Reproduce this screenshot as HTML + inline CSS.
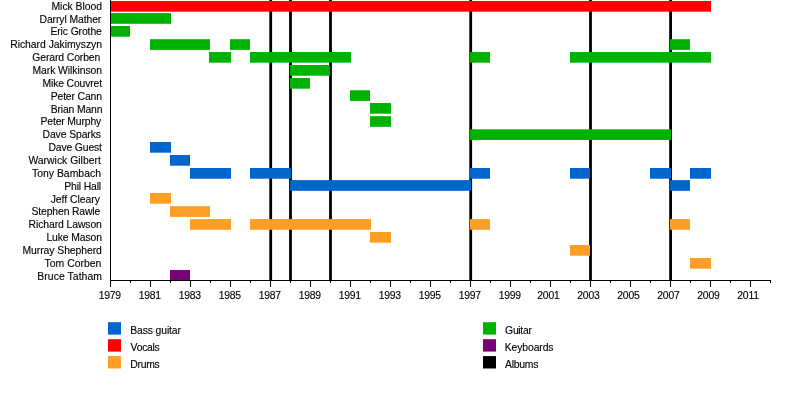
<!DOCTYPE html>
<html lang="en"><head><meta charset="utf-8"><title>Timeline</title>
<style>html,body{margin:0;padding:0;background:#fff}svg{display:block}text{font-family:"Liberation Sans",Arial,sans-serif;font-size:10.4px;fill:#000;stroke:#000;stroke-width:0.12}</style></head><body>
<svg width="800" height="400" viewBox="0 0 800 400">
<rect width="800" height="400" fill="#fff"/>
<rect x="269.3" y="0" width="2.8" height="280" fill="#000"/>
<rect x="289.1" y="0" width="2.8" height="280" fill="#000"/>
<rect x="329.1" y="0" width="2.8" height="280" fill="#000"/>
<rect x="469.3" y="0" width="2.8" height="280" fill="#000"/>
<rect x="589.1" y="0" width="2.8" height="280" fill="#000"/>
<rect x="669.2" y="0" width="2.8" height="280" fill="#000"/>
<g>
<rect x="110" y="1" width="601" height="10.7" fill="#ff0000"/>
<rect x="110" y="13.1" width="61" height="10.7" fill="#00b200"/>
<rect x="110" y="26" width="20" height="10.7" fill="#00b200"/>
<rect x="150" y="39.2" width="60" height="10.7" fill="#00b200"/>
<rect x="230" y="39.2" width="20" height="10.7" fill="#00b200"/>
<rect x="670" y="39.2" width="20" height="10.7" fill="#00b200"/>
<rect x="209" y="52" width="22" height="10.7" fill="#00b200"/>
<rect x="250" y="52" width="101" height="10.7" fill="#00b200"/>
<rect x="470" y="52" width="20" height="10.7" fill="#00b200"/>
<rect x="570" y="52" width="141" height="10.7" fill="#00b200"/>
<rect x="290" y="65" width="40" height="10.7" fill="#00b200"/>
<rect x="290" y="78" width="20" height="10.7" fill="#00b200"/>
<rect x="350" y="90.25" width="20" height="10.7" fill="#00b200"/>
<rect x="370" y="103" width="21" height="10.7" fill="#00b200"/>
<rect x="370" y="116.15" width="21" height="10.7" fill="#00b200"/>
<rect x="470" y="129.3" width="201" height="10.7" fill="#00b200"/>
<rect x="150" y="142" width="21" height="10.7" fill="#0066cc"/>
<rect x="170" y="155" width="20" height="10.7" fill="#0066cc"/>
<rect x="190" y="168" width="41" height="10.7" fill="#0066cc"/>
<rect x="250" y="168" width="41" height="10.7" fill="#0066cc"/>
<rect x="470" y="168" width="20" height="10.7" fill="#0066cc"/>
<rect x="570" y="168" width="20" height="10.7" fill="#0066cc"/>
<rect x="650" y="168" width="21" height="10.7" fill="#0066cc"/>
<rect x="690" y="168" width="21" height="10.7" fill="#0066cc"/>
<rect x="290" y="180.1" width="181" height="10.7" fill="#0066cc"/>
<rect x="670" y="180.1" width="20" height="10.7" fill="#0066cc"/>
<rect x="150" y="193" width="21" height="10.7" fill="#ff9e24"/>
<rect x="170" y="206.2" width="40" height="10.7" fill="#ff9e24"/>
<rect x="190" y="219.1" width="41" height="10.7" fill="#ff9e24"/>
<rect x="250" y="219.1" width="121" height="10.7" fill="#ff9e24"/>
<rect x="470" y="219.1" width="20" height="10.7" fill="#ff9e24"/>
<rect x="670" y="219.1" width="20" height="10.7" fill="#ff9e24"/>
<rect x="370" y="232" width="21" height="10.7" fill="#ff9e24"/>
<rect x="570" y="245" width="20" height="10.7" fill="#ff9e24"/>
<rect x="690" y="258" width="21" height="10.7" fill="#ff9e24"/>
<rect x="170" y="270" width="20" height="10.5" fill="#780078"/>
</g>
<g shape-rendering="crispEdges" fill="#000">
<rect x="110" y="0" width="1" height="281"/>
<rect x="110" y="280" width="661" height="1"/>
<rect x="110" y="280" width="1" height="7"/>
<rect x="130" y="280" width="1" height="3"/>
<rect x="150" y="280" width="1" height="7"/>
<rect x="170" y="280" width="1" height="3"/>
<rect x="190" y="280" width="1" height="7"/>
<rect x="210" y="280" width="1" height="3"/>
<rect x="230" y="280" width="1" height="7"/>
<rect x="250" y="280" width="1" height="3"/>
<rect x="270" y="280" width="1" height="7"/>
<rect x="290" y="280" width="1" height="3"/>
<rect x="310" y="280" width="1" height="7"/>
<rect x="330" y="280" width="1" height="3"/>
<rect x="350" y="280" width="1" height="7"/>
<rect x="370" y="280" width="1" height="3"/>
<rect x="390" y="280" width="1" height="7"/>
<rect x="410" y="280" width="1" height="3"/>
<rect x="430" y="280" width="1" height="7"/>
<rect x="450" y="280" width="1" height="3"/>
<rect x="470" y="280" width="1" height="7"/>
<rect x="490" y="280" width="1" height="3"/>
<rect x="510" y="280" width="1" height="7"/>
<rect x="530" y="280" width="1" height="3"/>
<rect x="550" y="280" width="1" height="7"/>
<rect x="570" y="280" width="1" height="3"/>
<rect x="590" y="280" width="1" height="7"/>
<rect x="610" y="280" width="1" height="3"/>
<rect x="630" y="280" width="1" height="7"/>
<rect x="650" y="280" width="1" height="3"/>
<rect x="670" y="280" width="1" height="7"/>
<rect x="690" y="280" width="1" height="3"/>
<rect x="710" y="280" width="1" height="7"/>
<rect x="730" y="280" width="1" height="3"/>
<rect x="750" y="280" width="1" height="7"/>
<rect x="770" y="280" width="1" height="3"/>
</g>
<text x="51.48" y="10.00" letter-spacing="-0.022">Mick Blood</text>
<text x="39.48" y="23.00" letter-spacing="-0.094">Darryl Mather</text>
<text x="50.43" y="35.00" letter-spacing="-0.115">Eric Grothe</text>
<text x="10.22" y="48.00" letter-spacing="-0.034">Richard Jakimyszyn</text>
<text x="32.35" y="61.00" letter-spacing="-0.115">Gerard Corben</text>
<text x="32.43" y="74.00" letter-spacing="-0.060">Mark Wilkinson</text>
<text x="42.48" y="87.00" letter-spacing="-0.150">Mike Couvret</text>
<text x="50.73" y="100.00" letter-spacing="-0.150">Peter Cann</text>
<text x="50.73" y="113.00" letter-spacing="-0.150">Brian Mann</text>
<text x="40.52" y="125.00" letter-spacing="-0.150">Peter Murphy</text>
<text x="42.48" y="138.00" letter-spacing="-0.095">Dave Sparks</text>
<text x="48.48" y="151.00" letter-spacing="-0.150">Dave Guest</text>
<text x="28.38" y="164.00" letter-spacing="0.009">Warwick Gilbert</text>
<text x="32.00" y="177.00" letter-spacing="0.018">Tony Bambach</text>
<text x="64.22" y="190.00" letter-spacing="-0.150">Phil Hall</text>
<text x="50.68" y="203.00" letter-spacing="-0.027">Jeff Cleary</text>
<text x="31.60" y="215.00" letter-spacing="-0.150">Stephen Rawle</text>
<text x="28.62" y="228.00" letter-spacing="-0.096">Richard Lawson</text>
<text x="46.43" y="241.00" letter-spacing="-0.117">Luke Mason</text>
<text x="22.48" y="254.00" letter-spacing="-0.061">Murray Shepherd</text>
<text x="44.55" y="267.00" letter-spacing="0.019">Tom Corben</text>
<text x="37.33" y="280.00" letter-spacing="0.061">Bruce Tatham</text>
<text x="98.65" y="298.60" letter-spacing="-0.220">1979</text>
<text x="138.65" y="298.60" letter-spacing="-0.220">1981</text>
<text x="178.65" y="298.60" letter-spacing="-0.220">1983</text>
<text x="218.65" y="298.60" letter-spacing="-0.220">1985</text>
<text x="258.65" y="298.60" letter-spacing="-0.220">1987</text>
<text x="298.65" y="298.60" letter-spacing="-0.220">1989</text>
<text x="338.65" y="298.60" letter-spacing="-0.220">1991</text>
<text x="378.65" y="298.60" letter-spacing="-0.220">1993</text>
<text x="418.65" y="298.60" letter-spacing="-0.220">1995</text>
<text x="458.65" y="298.60" letter-spacing="-0.220">1997</text>
<text x="498.65" y="298.60" letter-spacing="-0.220">1999</text>
<text x="537.30" y="298.60" letter-spacing="-0.220">2001</text>
<text x="577.30" y="298.60" letter-spacing="-0.220">2003</text>
<text x="617.30" y="298.60" letter-spacing="-0.220">2005</text>
<text x="657.30" y="298.60" letter-spacing="-0.220">2007</text>
<text x="697.30" y="298.60" letter-spacing="-0.220">2009</text>
<text x="737.30" y="298.60" letter-spacing="-0.220">2011</text>
<rect x="108" y="322.2" width="13" height="12.4" fill="#0066cc"/>
<text x="130.32" y="333.60" letter-spacing="-0.140">Bass guitar</text>
<rect x="108" y="339.2" width="13" height="12.4" fill="#ff0000"/>
<text x="130.57" y="350.60" letter-spacing="-0.285">Vocals</text>
<rect x="108" y="356.1" width="13" height="12.4" fill="#ff9e24"/>
<text x="130.32" y="367.50" letter-spacing="-0.300">Drums</text>
<rect x="483" y="322.2" width="13" height="12.4" fill="#00b200"/>
<text x="505.10" y="333.60" letter-spacing="-0.300">Guitar</text>
<rect x="483" y="339.2" width="13" height="12.4" fill="#780078"/>
<text x="504.73" y="350.60" letter-spacing="-0.109">Keyboards</text>
<rect x="483" y="356.1" width="13" height="12.4" fill="#000"/>
<text x="505.10" y="367.50" letter-spacing="-0.270">Albums</text>
</svg></body></html>
